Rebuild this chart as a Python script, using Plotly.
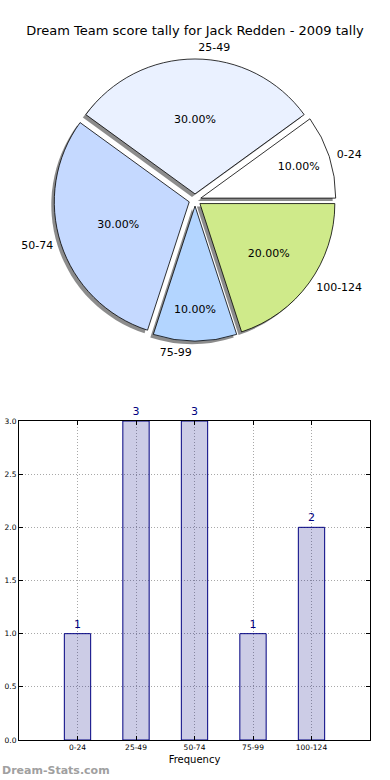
import plotly.graph_objects as go

categories = ["0-24", "25-49", "50-74", "75-99", "100-124"]
counts = [1, 3, 3, 1, 2]
pie_colors = ["#ffffff", "#eaf1ff", "#c5d9ff", "#b3d5ff", "#cfea8a"]

W, H = 390, 780
ML, MR, MT, MB = 19, 20, 0, 40
PW, PH = W - ML - MR, H - MT - MB

def px_x(x):
    return (x - ML) / PW

def px_y(y):
    return 1 - (y - MT) / PH

explode = 0.045
label_pull = 0.08
cx, cy, s = 195, 200, 141
r = s / (1 + explode)
s_lab = r * (1 + label_pull)

def dom(c_x, c_y, half):
    return dict(x=[px_x(c_x - half), px_x(c_x + half)], y=[px_y(c_y + half), px_y(c_y - half)])

off = 3
fig = go.Figure()

common = dict(labels=categories, values=counts, sort=False, direction="counterclockwise",
              rotation=54, hoverinfo="skip", showlegend=False, automargin=False)

# shadow
fig.add_trace(go.Pie(**common, domain=dom(cx - off, cy + off, s), pull=[explode] * 5,
                     marker=dict(colors=["rgba(0,0,0,0.45)"] * 5, line=dict(width=0)),
                     textinfo="none"))
# main wedges with percentages
fig.add_trace(go.Pie(**common, domain=dom(cx, cy, s), pull=[explode] * 5,
                     marker=dict(colors=pie_colors, line=dict(color="black", width=0.8)),
                     texttemplate="%{percent:.2%}", textposition="inside",
                     insidetextorientation="horizontal",
                     textfont=dict(family="DejaVu Sans", size=11, color="black")))
# outer labels (transparent wedges, pulled further so labels sit beyond the rim)
fig.add_trace(go.Pie(**common, domain=dom(cx, cy, s_lab), pull=[label_pull] * 5,
                     marker=dict(colors=["rgba(0,0,0,0)"] * 5, line=dict(width=0)),
                     textinfo="label", textposition="outside",
                     outsidetextfont=dict(family="DejaVu Sans", size=11, color="black")))

fig.add_trace(go.Bar(x=categories, y=counts, width=0.45,
                     marker=dict(color="rgba(0,0,128,0.2)", line=dict(color="#000080", width=1)),
                     text=[str(c) for c in counts], textposition="outside", cliponaxis=False,
                     textfont=dict(family="DejaVu Sans", size=11, color="#000080"),
                     hoverinfo="skip", showlegend=False))

grid = dict(showgrid=True, gridcolor="#a8a8a8", griddash="1px,2px", gridwidth=1)

fig.update_layout(
    width=W, height=H, margin=dict(l=ML, r=MR, t=MT, b=MB, autoexpand=False),
    paper_bgcolor="white", plot_bgcolor="white",
    font=dict(family="DejaVu Sans", color="black"),
    title=dict(text="Dream Team score tally for Jack Redden - 2009 tally",
               xref="container", yref="container",
               x=0.5, xanchor="center", y=1 - 30 / H, yanchor="middle",
               font=dict(family="DejaVu Sans", size=13, color="black")),
    xaxis=dict(domain=[0, 1], range=[-1, 5], showline=True, mirror="ticks", linecolor="black",
               linewidth=1, ticks="inside", ticklen=4, tickcolor="black", **grid,
               tickfont=dict(size=7.5), automargin=False,
               title=dict(text="Frequency", font=dict(size=10), standoff=4),
               fixedrange=True, zeroline=False),
    yaxis=dict(domain=[0, px_y(421)], range=[0, 3], dtick=0.5, tickformat=".1f",
               showline=True, mirror="ticks", linecolor="black", linewidth=1,
               ticks="inside", ticklen=4, tickcolor="black", **grid,
               tickfont=dict(size=7.5), automargin=False, zeroline=False, fixedrange=True),
    annotations=[dict(text="<b>Dream-Stats.com</b>", xref="paper", yref="paper",
                      x=px_x(0), y=px_y(770), xanchor="left", yanchor="middle",
                      showarrow=False, font=dict(family="DejaVu Sans", size=11, color="#a0a0a0"))],
)

fig.write_html("out.html", config={"displayModeBar": False},
               post_script="document.body.style.margin='0';document.body.style.overflow='hidden';")
